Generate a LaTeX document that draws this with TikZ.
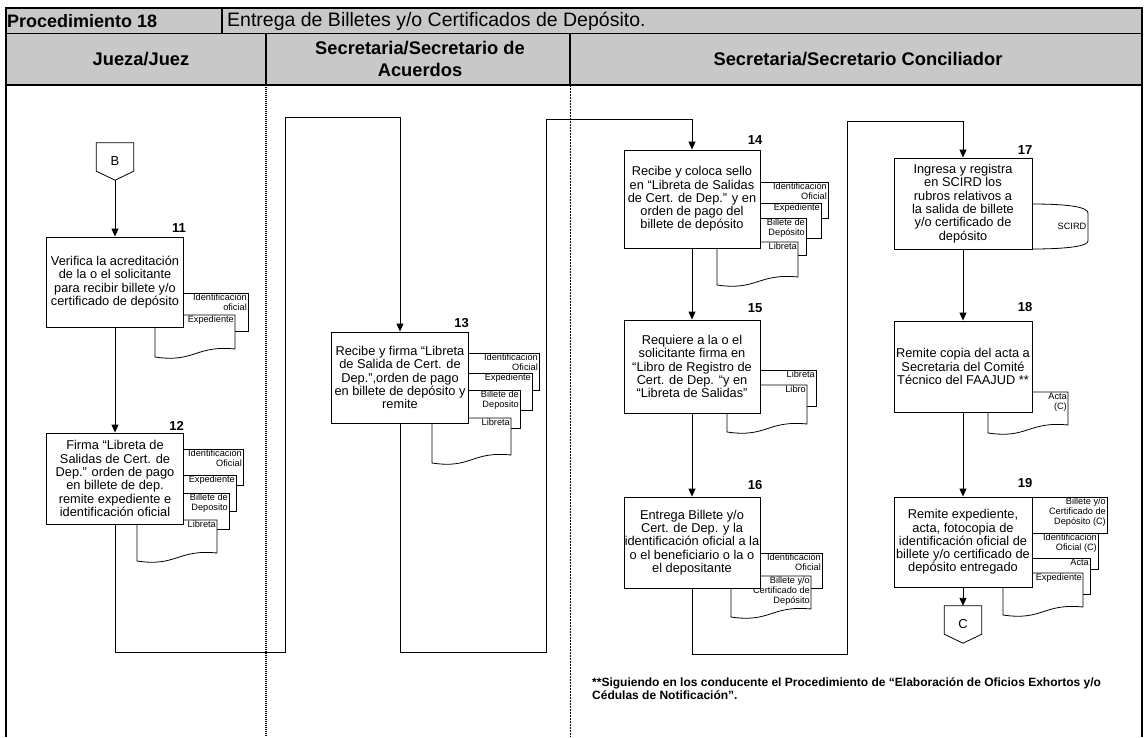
\documentclass[tikz,border=0pt]{standalone}
\usepackage{fontspec}
\setmainfont{Liberation Sans}
\usetikzlibrary{arrows.meta}
\definecolor{hdr}{RGB}{200,200,200}
\tikzset{
  frameline/.style={line width=1.1pt, black},
  docline/.style={draw=black, fill=white, line width=0.8pt},
  doclbl/.style={anchor=north east, align=right, inner sep=0.5pt, font=\fontsize{9.2}{10}\selectfont},
  proc/.style 2 args={draw=black, fill=white, line width=0.9pt, minimum width=#1pt, minimum height=#2pt,
    inner sep=0pt, align=center, font=\fontsize{12.8}{13.3}\selectfont},
  num/.style={anchor=south east, inner sep=0pt, font=\bfseries\fontsize{13}{13}\selectfont},
  flow/.style={-{Triangle[length=8pt,width=7pt]}, line width=0.9pt},
  hdrtxt/.style={inner sep=0pt, align=center, font=\bfseries\fontsize{18.3}{22}\selectfont},
  laneA/.style={line width=1.6pt, dash pattern=on 1pt off 1pt},
  laneB/.style={line width=0.7pt, dash pattern=on 2pt off 1pt},
  offp/.style={minimum width=37pt, minimum height=37pt, inner sep=0pt, font=\fontsize{13}{13}\selectfont},
}
\newcommand{\dback}[6]{%
  \draw[docline] (#2,#3) rectangle (#4,#5);
  \node[doclbl] (#1) at ({#4-0.5},{#3+0.5}) {#6};}
\newcommand{\dfront}[6]{%
  \draw[docline] ({#2},{#5+8}) -- (#2,#3) -- (#4,#3) -- (#4,#5) .. controls +(-40,-4) and +(40,6) .. ({#2},{#5+8}) -- cycle;
  \node[doclbl] (#1) at ({#4-0.5},{#3+0.5}) {#6};}
\begin{document}
\begin{tikzpicture}[x=1pt, y=-1pt]
\useasboundingbox (0,0) rectangle (1144,737);
% header
\fill[hdr] (6,8) rectangle (1142,85);
\draw[frameline] (6,737) -- (6,8) -- (1142,8) -- (1142,737);
\draw[frameline] (6,33.5) -- (1142,33.5);
\draw[frameline] (6,85) -- (1142,85);
\draw[frameline] (222,8) -- (222,33.5);
\draw[frameline] (266,33.5) -- (266,85);
\draw[frameline] (570,33.5) -- (570,85);
\node[anchor=west, inner sep=0pt, font=\bfseries\fontsize{18}{18}\selectfont] (proc) at (7,21) {Procedimiento 18};
\node[anchor=west, inner sep=0pt, font=\fontsize{19.5}{19.5}\selectfont] (title) at (227,21) {Entrega de Billetes y/o Certificados de Depósito.};
\node[hdrtxt] (l1) at (141,59) {Jueza/Juez};
\node[hdrtxt] (l2) at (420,59) {Secretaria/Secretario de\\Acuerdos};
\node[hdrtxt] (l3) at (858,59) {Secretaria/Secretario Conciliador};
% lanes
\draw[laneA] (266,85) -- (266,737);
\draw[laneB] (570,85) -- (570,737);

% connector B
\node[offp] (B) at (115,161.5) {B};
\draw[line width=0.8pt] (B.north west) -- (B.north east) -- ([yshift=9pt]B.south east) -- (B.south) -- ([yshift=9pt]B.south west) -- cycle;

% step 11
\dback{d11a}{170}{293}{248}{331}{Identificación\\oficial}
\dfront{d11b}{155}{315}{235}{349}{Expediente}
\node[proc={137}{90}] (p11) at (115,282) {Verifica la acreditación\\de la o el solicitante\\para recibir billete y/o\\certificado de depósito};
\node[num] (n11) at ([xshift=2pt,yshift=4pt]p11.north east) {11};

% step 12
\dback{d12a}{170}{449}{243}{485}{Identificación\\Oficial}
\dback{d12b}{170}{475}{236}{511}{Expediente}
\dback{d12c}{170}{493}{229}{529}{Billete de\\Deposito}
\dfront{d12d}{137}{520}{217}{553}{Libreta}
\node[proc={137}{91}] (p12) at (115,478.5) {Firma “Libreta de\\Salidas de Cert. de\\Dep.” orden de pago\\en billete de dep.\\remite expediente e\\identificación oficial};
\node[num] (n12) at ([xshift=0pt,yshift=2pt]p12.north east) {12};

% step 13
\dback{d13a}{455}{353}{539}{390}{Identificación\\Oficial}
\dback{d13b}{455}{373}{532}{410}{Expediente}
\dback{d13c}{455}{390}{520}{428}{Billete de\\Deposito}
\dfront{d13d}{432}{418}{511}{455}{Libreta}
\node[proc={137}{91}] (p13) at (400,377.5) {Recibe y firma “Libreta\\de Salida de Cert. de\\Dep.”,orden de pago\\en billete de depósito y\\remite};
\node[num] (n13) at ([xshift=0pt,yshift=4pt]p13.north east) {13};

% step 14
\dback{d14a}{750}{182}{828}{218}{Identificación\\Oficial}
\dback{d14b}{750}{203}{821}{238}{Expediente}
\dback{d14c}{750}{218}{806}{255}{Billete de\\Depósito}
\dfront{d14d}{717}{242}{798}{277}{Libreta}
\node[proc={136}{98}] (p14) at (692,199) {Recibe y coloca sello\\en “Libreta de Salidas\\de Cert. de Dep.” y en\\orden de pago del\\billete de depósito};
\node[num] (n14) at ([xshift=2pt,yshift=5pt]p14.north east) {14};

% step 15
\dback{d15a}{750}{370}{816}{406}{Libreta}
\dfront{d15b}{727}{385}{807}{424}{Libro}
\node[proc={136}{93}] (p15) at (692,366.5) {Requiere a la o el\\solicitante firma en\\“Libro de Registro de\\Cert. de Dep. “y en\\“Libreta de Salidas”};
\node[num] (n15) at ([xshift=2pt,yshift=7pt]p15.north east) {15};

% step 16
\dback{d16a}{750}{553}{822}{588}{Identificación\\Oficial}
\dfront{d16b}{731}{576}{811}{609}{Billete y/o\\Certificado de\\Depósito}
\node[proc={136}{91}] (p16) at (692,542.5) {Entrega Billete y/o\\Cert. de Dep. y la\\identificación oficial a la\\o el beneficiario o la o\\el depositante};
\node[num] (n16) at ([xshift=2pt,yshift=7pt]p16.north east) {16};

% step 17
\draw[docline] (1020,204) -- (1032,204) .. controls (1068,204) and (1088,207) .. (1088,213) -- (1088,241) .. controls (1088,246) and (1068,249) .. (1032,249) -- (1020,249) -- cycle;
\node[doclbl, anchor=east] (scird) at (1087,226) {SCIRD};
\node[proc={138}{91}] (p17) at (963,203.5) {Ingresa y registra\\en SCIRD los\\rubros relativos a\\la salida de billete\\y/o certificado de\\depósito};
\node[num] (n17) at ([xshift=0pt,yshift=3pt]p17.north east) {17};

% step 18
\dfront{d18}{988}{392}{1068}{425}{Acta\\(C)}
\node[proc={138}{91}] (p18) at (963,366.5) {Remite copia del acta a\\Secretaria del Comité\\Técnico del FAAJUD **};
\node[num] (n18) at ([xshift=0pt,yshift=9pt]p18.north east) {18};

% step 19
\dback{d19a}{1020}{497}{1107}{533}{Billete y/o\\Certificado de\\Depósito (C)}
\dback{d19b}{1020}{533}{1098}{569}{Identificación\\Oficial (C)}
\dback{d19c}{1020}{558}{1090}{594}{Acta}
\dfront{d19d}{1003}{573}{1083}{607}{Expediente}
\node[proc={138}{90}] (p19) at (963,542) {Remite expediente,\\acta, fotocopia de\\identificación oficial de\\billete y/o certificado de\\depósito entregado};
\node[num] (n19) at ([xshift=0pt,yshift=9pt]p19.north east) {19};

% connector C
\node[offp] (C) at (963,624.5) {C};
\draw[line width=0.8pt] (C.north west) -- (C.north east) -- ([yshift=9pt]C.south east) -- (C.south) -- ([yshift=9pt]C.south west) -- cycle;

% flows
\draw[flow] (B.south) -- (p11.north);
\draw[flow] (p11.south) -- (p12.north);
\draw[flow] (p12.south) |- (285,652) |- (400,117) -- (p13.north);
\draw[flow] (p13.south) |- (546,652) |- (692,119) -- (p14.north);
\draw[flow] (p14.south) -- (p15.north);
\draw[flow] (p15.south) -- (p16.north);
\draw[flow] (p16.south) |- (847,654) |- (963,121) -- (p17.north);
\draw[flow] (p17.south) -- (p18.north);
\draw[flow] (p18.south) -- (p19.north);
\draw[flow] (p19.south) -- (C.north);

% footnote
\node[anchor=north west, align=left, inner sep=0pt, font=\bfseries\fontsize{12}{13}\selectfont] (fn) at (592,677) {**Siguiendo en los conducente el Procedimiento de “Elaboración de Oficios Exhortos y/o\\Cédulas de Notificación”.};
\end{tikzpicture}
\end{document}
